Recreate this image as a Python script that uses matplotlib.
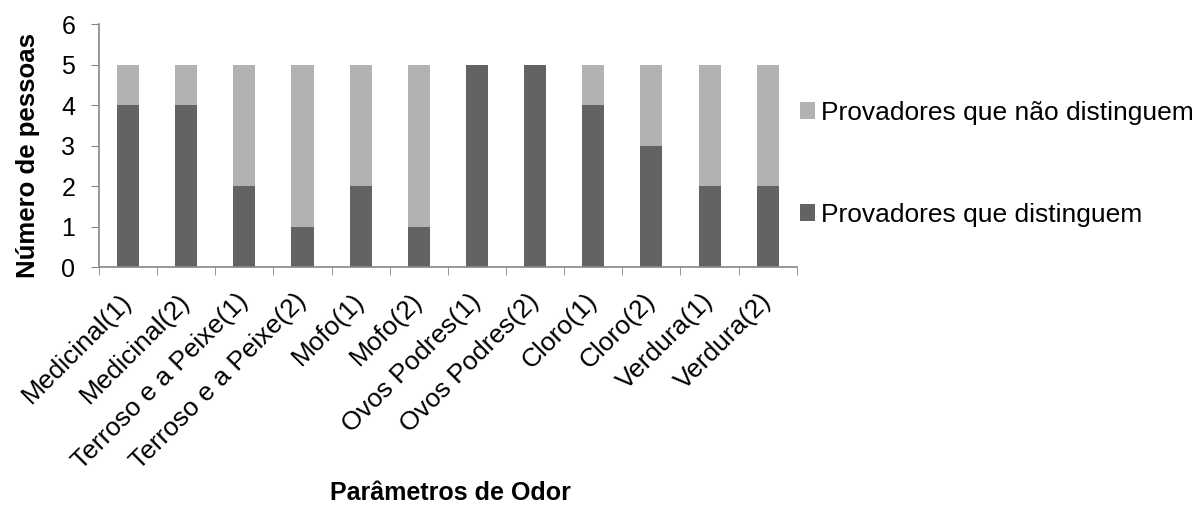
# Gráfico de barras empilhadas: provadores que distinguem cada odor
import matplotlib.pyplot as plt
import numpy as np

plt.rcParams['font.family'] = ['Liberation Sans', 'DejaVu Sans']

# Dados
parametros = ['Medicinal(1)', 'Medicinal(2)', 'Terroso e a Peixe(1)', 'Terroso e a Peixe(2)',
              'Mofo(1)', 'Mofo(2)', 'Ovos Podres(1)', 'Ovos Podres(2)',
              'Cloro(1)', 'Cloro(2)', 'Verdura(1)', 'Verdura(2)']
distinguem = [4, 4, 2, 1, 2, 1, 5, 5, 4, 3, 2, 2]
nao_distinguem = [1, 1, 3, 4, 3, 4, 0, 0, 1, 2, 3, 3]

fig = plt.figure(figsize=(11.98, 5.12), dpi=100)
ax = fig.add_axes([0.0826, 0.4785, 0.5825, 0.4745])

x = np.arange(len(parametros))
b1 = ax.bar(x, distinguem, width=0.38, color='#636363', label='Provadores que distinguem')
b2 = ax.bar(x, nao_distinguem, width=0.38, bottom=distinguem, color='#b2b2b2',
            label='Provadores que não distinguem')

ax.set_xlim(-0.5, len(parametros) - 0.5)
ax.set_ylim(0, 6)
ax.set_yticks(range(7))

# Marcas do eixo x entre as categorias (estilo Excel)
ax.set_xticks(x)
ax.set_xticklabels(parametros, rotation=45, ha='right', va='center',
                   rotation_mode='anchor', fontsize=19)
ax.tick_params(axis='x', length=0, pad=22)
ax.set_xticks(np.arange(-0.5, len(parametros)), minor=True)
ax.tick_params(axis='x', which='minor', length=6, color='#868686', direction='out')
ax.tick_params(axis='y', length=6, color='#868686', labelsize=18, pad=11)

for s in ['top', 'right']:
    ax.spines[s].set_visible(False)
for s in ['left', 'bottom']:
    ax.spines[s].set_color('#868686')
    ax.spines[s].set_linewidth(1.2)

fig.text(28 / 1198, 0.697, 'Número de pessoas', fontsize=18.5, fontweight='bold',
         rotation=90, ha='center', va='center')
fig.text(450 / 1198, 0.038, 'Parâmetros de Odor', fontsize=18, fontweight='bold',
         ha='center', va='center')

# Legenda em ordem invertida
leg = fig.legend([b2, b1], ['Provadores que não distinguem', 'Provadores que distinguem'],
                 loc='center left', bbox_to_anchor=(800 / 1198, 0.68), frameon=False,
                 fontsize=19, handlelength=0.58, handleheight=0.58, handletextpad=0.2,
                 labelspacing=2.95, borderpad=0, borderaxespad=0)

plt.savefig('out.png', dpi=100)
